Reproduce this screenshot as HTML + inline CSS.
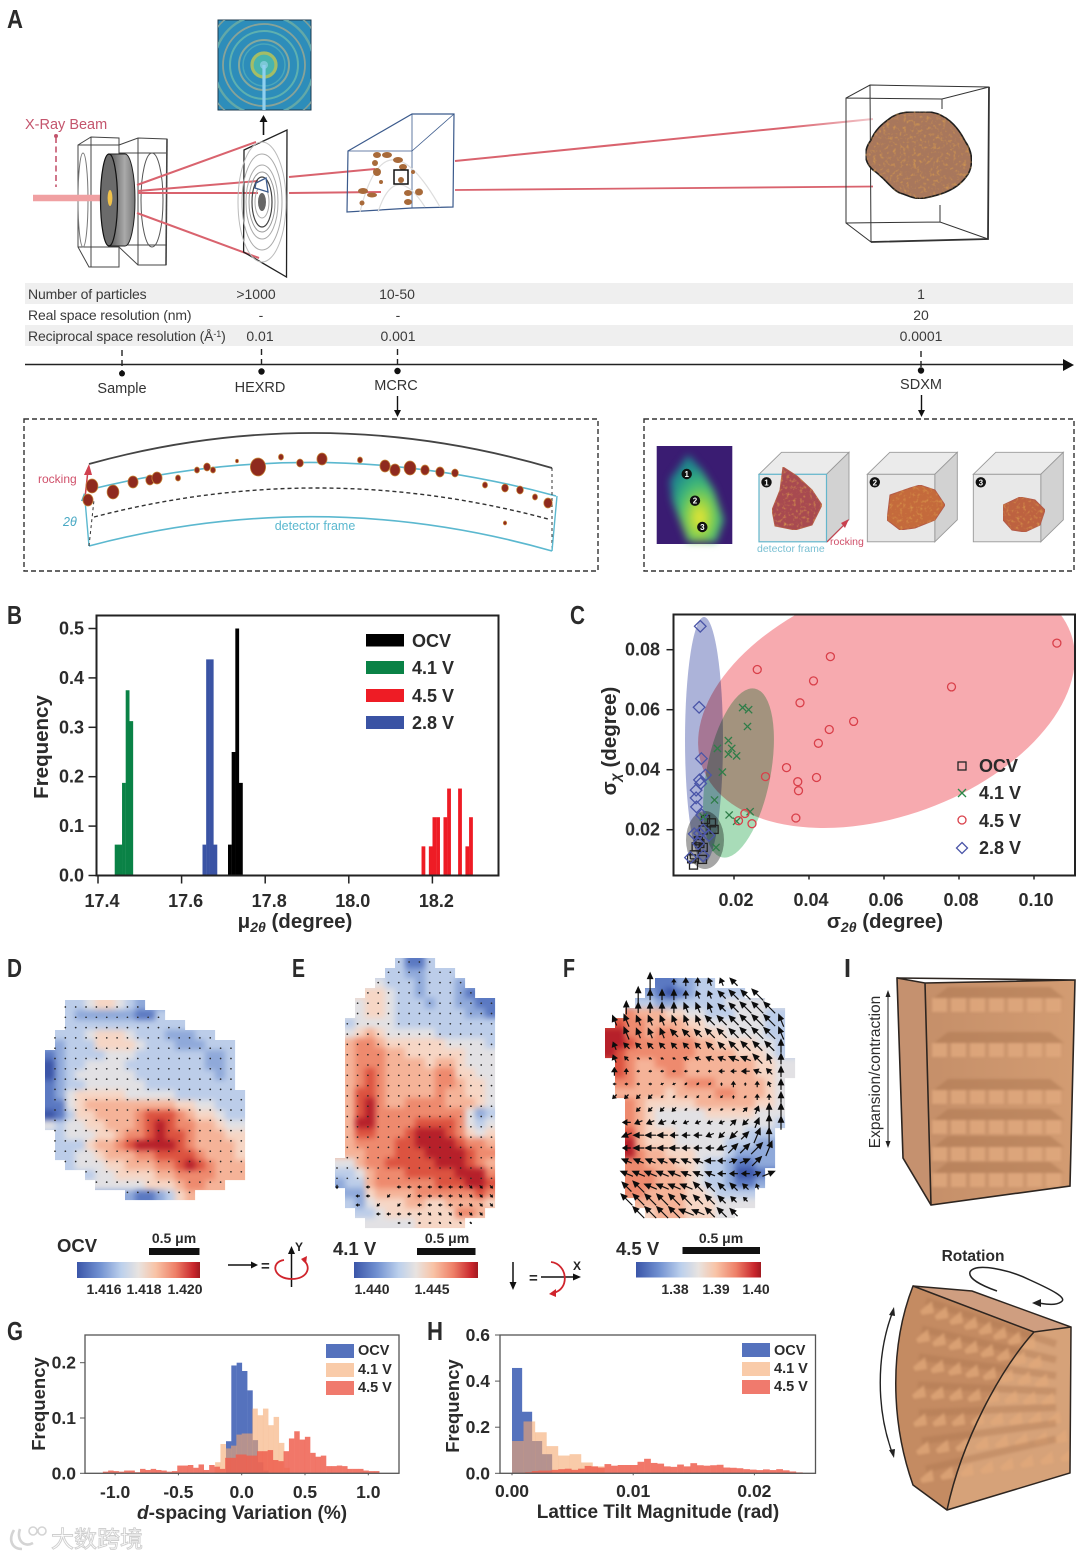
<!DOCTYPE html>
<html lang="en">
<head>
<meta charset="utf-8">
<title>Multiscale X-ray characterisation figure</title>
<style>
html,body{margin:0;padding:0;background:#fff;}
#figure{display:block;width:1080px;height:1559px;font-family:"Liberation Sans",sans-serif;}
.b{font-weight:bold;fill:#2b2b2b;}
.ab{font-family:"Liberation Sans",sans-serif;font-size:14px;fill:#3a3a3a;letter-spacing:-.15px;}
.mult{mix-blend-mode:multiply;}
</style>
</head>
<body>
<svg id="figure" xmlns="http://www.w3.org/2000/svg" width="1080" height="1559" viewBox="0 0 1080 1559">
<defs>
<linearGradient id="cbar" x1="0" x2="1" y1="0" y2="0">
<stop offset="0" stop-color="#3a55a8"/><stop offset=".18" stop-color="#6f8fd0"/><stop offset=".36" stop-color="#bcd0ec"/><stop offset=".5" stop-color="#e8e3e0"/><stop offset=".64" stop-color="#f8c3a6"/><stop offset=".8" stop-color="#ee8068"/><stop offset=".95" stop-color="#c8252c"/><stop offset="1" stop-color="#a01a20"/>
</linearGradient>
<linearGradient id="disk" x1="0" x2="1" y1="0" y2="0"><stop offset="0" stop-color="#555"/><stop offset=".6" stop-color="#aaa"/><stop offset="1" stop-color="#777"/></linearGradient>
<linearGradient id="fadeLine" x1="0" x2="1" y1="0" y2="0"><stop offset="0" stop-color="#d9636e"/><stop offset=".8" stop-color="#d9636e"/><stop offset="1" stop-color="#f3c7cb"/></linearGradient>
<linearGradient id="boxFace" x1="0" x2="1" y1="0" y2="0"><stop offset="0" stop-color="#c58f69"/><stop offset="1" stop-color="#d39c72"/></linearGradient>
<radialGradient id="viridis" cx=".55" cy=".72" r=".6"><stop offset="0" stop-color="#f2e832"/><stop offset=".3" stop-color="#9ed645"/><stop offset=".65" stop-color="#3fb878"/><stop offset="1" stop-color="#1f8a8c"/></radialGradient>
<filter id="soft" x="-10%" y="-10%" width="120%" height="120%" color-interpolation-filters="sRGB"><feGaussianBlur stdDeviation="2.8"/></filter>
<filter id="soft2" x="-20%" y="-20%" width="140%" height="140%" color-interpolation-filters="sRGB"><feGaussianBlur stdDeviation="4"/></filter>
<filter id="blur1" x="-5%" y="-5%" width="110%" height="110%" color-interpolation-filters="sRGB"><feGaussianBlur stdDeviation="1.2"/></filter>
<filter id="speckle" x="0" y="0" width="100%" height="100%" color-interpolation-filters="sRGB">
<feTurbulence type="fractalNoise" baseFrequency=".3" numOctaves="2" seed="4" result="n"/>
<feColorMatrix in="n" type="matrix" values="0 0 0 0 .86  0 0 0 0 .62  0 0 0 0 .3  2.2 0 0 0 -1.15" result="c"/>
<feComposite in="c" in2="SourceAlpha" operator="in" result="s"/>
<feMerge><feMergeNode in="SourceGraphic"/><feMergeNode in="s"/></feMerge>
</filter>
<clipPath id="diffClip"><rect x="218" y="20" width="93" height="90"/></clipPath>
<clipPath id="cClip"><rect x="673" y="614" width="402" height="262"/></clipPath>
<clipPath id="bentClip"><path d="M913 1286 L972 1291 L1071 1327 L1070 1473 L947 1510 L913 1485 C890 1420 890 1345 913 1286 Z"/></clipPath>
</defs>

<!-- Panel A : beamline drawing -->
<g>
<text class="b" x="7" y="28" font-size="26" textLength="16" lengthAdjust="spacingAndGlyphs">A</text>
<g>
<rect x="218" y="20" width="93" height="90" fill="#2d8dba" stroke="#1d3a4d" stroke-width="1"/>
<g clip-path="url(#diffClip)" fill="none">
<circle cx="264" cy="65" r="60" stroke="#7f9f98" stroke-width="1.6"/><circle cx="264" cy="65" r="50" stroke="#62a8a8" stroke-width="2.4"/><circle cx="264" cy="65" r="41" stroke="#88a398" stroke-width="1.8"/><circle cx="264" cy="65" r="34" stroke="#5eb0b0" stroke-width="2"/><circle cx="264" cy="65" r="25" stroke="#86a89c" stroke-width="2"/><circle cx="264" cy="65" r="21" stroke="#4aa6ba" stroke-width="1.5"/>
<circle cx="264" cy="65" r="12" stroke="#a4bd66" stroke-width="3.2" fill="#49b4ae"/><circle cx="264" cy="65" r="4" fill="#7cc8d6"/>
<line x1="264" y1="65" x2="264" y2="110" stroke="#8fd0ef" stroke-width="3.2"/>
</g>
</g>
<g><line x1="263.5" y1="135" x2="263.5" y2="120" stroke="#111" stroke-width="1.6"/><polygon points="263.5,115 259.5,122 267.5,122" fill="#111"/></g>
<text x="25" y="129" font-size="14.5" fill="#c4556d">X-Ray Beam</text>
<line x1="56" y1="137" x2="56" y2="187" stroke="#c4556d" stroke-width="1.6" stroke-dasharray="6 3.5"/>
<circle cx="56" cy="136" r="2" fill="#c4556d"/>
<g fill="none" stroke="#444" stroke-width="1">
<path d="M78 145 L91 137 L119 138 L119 267 L89 267 L78 247 Z M78 145 L119 145 M78 247 L119 247 M91 137 L91 267"/>
<ellipse cx="83" cy="200" rx="5" ry="47" stroke="#777"/>
<path d="M119 145 L138 138 L167 139 L166 265 L138 265 L119 247 M138 138 L138 265 M119 153 L166 153 M119 245 L166 245" stroke-width="1"/>
<path d="M167 139 L166 265" stroke-width="1.6"/>
<ellipse cx="152" cy="200" rx="11" ry="47" stroke="#555"/>
</g>
<path d="M33 198 H106" stroke="#f0a0a2" stroke-width="6.5"/>
<g>
<path d="M109 154 H125 A10 46 0 0 1 125 246 H109 Z" fill="url(#disk)" stroke="#222" stroke-width="1"/>
<ellipse cx="109" cy="200" rx="8.5" ry="46" fill="#6b6b6b" stroke="#111" stroke-width="1.2"/>
<ellipse cx="110" cy="198" rx="2.4" ry="8" fill="#f1c24a"/>
</g>
<g stroke="#d9636e" stroke-width="2" fill="none">
<path d="M137 185 L256 142"/><path d="M137 213 L259 258"/><path d="M138 191 L258 181"/><path d="M138 193 L258 193"/>
<path d="M289 177 L375 169"/><path d="M289 193 L381 192"/>
<path d="M455 161 L873 119" stroke="url(#fadeLine)" stroke-width="2"/><path d="M455 190 L873 186.5" stroke="#d9636e" stroke-width="1.8"/>
</g>
<g fill="none">
<path d="M244 150 L287 130 L286.5 277 L243.6 252 Z" stroke="#222" stroke-width="1.3"/>
<ellipse cx="262" cy="202" rx="4" ry="9" fill="#666" stroke="none"/>
<ellipse cx="262" cy="202" rx="7" ry="16" stroke="#aaa"/><ellipse cx="262" cy="202" rx="10" ry="25" stroke="#444" stroke-width="1.2"/><ellipse cx="262" cy="202" rx="13" ry="30" stroke="#999"/><ellipse cx="262" cy="202" rx="16" ry="37" stroke="#aaa"/><ellipse cx="262" cy="202" rx="20" ry="48" stroke="#aaa"/><ellipse cx="262" cy="202" rx="24" ry="60" stroke="#bbb"/>
<path d="M256 183 L266 178 L268 192 L255 188 Z" stroke="#3b5a8c" stroke-width="1.3" fill="#fff"/>
</g>
<g fill="none" stroke="#3b5a8c" stroke-width="1.2">
<path d="M348 151 L412 114 L454 114 L453 207 L412 208 L347 212 Z"/><path d="M348 151 L412 151 M412 114 L412 208" stroke-width=".8"/><path d="M412 151 L454 114" stroke-width=".8"/>
<path d="M360 212 Q385 110 440 207 M378 212 Q395 160 425 207" stroke="#ddd" stroke-width="1.2"/>
</g>
<g fill="#a86a3a">
<ellipse cx="377" cy="155" rx="4" ry="3"/><ellipse cx="387" cy="155" rx="5" ry="3"/><ellipse cx="398" cy="160" rx="5" ry="3"/><ellipse cx="403" cy="167" rx="4" ry="3"/><ellipse cx="377" cy="172" rx="4" ry="4"/><ellipse cx="375" cy="163" rx="3" ry="3"/><circle cx="381" cy="182" r="2"/><ellipse cx="401" cy="180" rx="3" ry="3"/><ellipse cx="413" cy="172" rx="2" ry="2"/><ellipse cx="363" cy="191" rx="5" ry="3"/><ellipse cx="372" cy="195" rx="5" ry="2.5"/><circle cx="362" cy="203" r="2.5"/><ellipse cx="408" cy="193" rx="4" ry="3"/><ellipse cx="419" cy="192" rx="4" ry="3.5"/><ellipse cx="408" cy="202" rx="4" ry="3"/>
</g>
<rect x="394" y="170" width="14" height="14" fill="none" stroke="#111" stroke-width="1.5"/>
<g fill="none" stroke="#333" stroke-width="1">
<path d="M846 98 L846 223 L871 242 L988 239 L989 87 L870 85 Z M846 98 L942 99 L989 87 M870 85 L871 242 M846 223 L940 222 L988 239 M942 99 L942 109 M940 205 L940 222"/>
<path d="M989 87 L988 239 L871 242" stroke-width="1.8"/>
</g>
<path d="M889 119 C900 110 915 112 930 112 C945 114 957 125 965 141 C975 155 972 170 966 177 C955 192 935 196 925 198 C915 200 910 196 900 193 C892 190 885 178 873 170 C862 160 865 148 871 140 C875 130 882 124 889 119 Z" fill="#a8775c" stroke="#1e1e1e" stroke-width="1.6" filter="url(#speckle)"/>
</g>

<!-- Table and timeline -->
<g>
<rect x="25" y="283" width="1048" height="21" fill="#efefef"/>
<rect x="25" y="325" width="1048" height="21" fill="#efefef"/>
<text class="ab" x="28" y="299">Number of particles</text>
<text class="ab" x="28" y="320">Real space resolution (nm)</text>
<text class="ab" x="28" y="341">Reciprocal space resolution (Å<tspan dy="-4" font-size="9">-1</tspan><tspan dy="4">)</tspan></text>
<g text-anchor="middle" font-size="14" fill="#3a3a3a">
<text x="256" y="299">&gt;1000</text><text x="397" y="299">10-50</text><text x="921" y="299">1</text>
<text x="261" y="320">-</text><text x="398" y="320">-</text><text x="921" y="320">20</text>
<text x="260" y="341">0.01</text><text x="398" y="341">0.001</text><text x="921" y="341">0.0001</text>
</g>
</g>
<g>
<line x1="25" y1="364.5" x2="1065" y2="364.5" stroke="#222" stroke-width="1.4"/>
<polygon points="1074,365 1063,359 1063,371" fill="#111"/>
<g stroke="#222" stroke-width="1.4" stroke-dasharray="6 4"><line x1="122" y1="350" x2="122" y2="371"/><line x1="261.5" y1="349" x2="261.5" y2="371"/><line x1="397.5" y1="349" x2="397.5" y2="371"/><line x1="921" y1="351" x2="921" y2="371"/></g>
<g fill="#111"><circle cx="122" cy="373.5" r="3"/><circle cx="261.5" cy="371.5" r="3.2"/><circle cx="397.5" cy="371" r="3.2"/><circle cx="921" cy="370.5" r="3.2"/></g>
<g text-anchor="middle" font-size="14.5" fill="#333">
<text x="122" y="393">Sample</text><text x="260" y="392">HEXRD</text><text x="396" y="390">MCRC</text><text x="921" y="389">SDXM</text>
</g>
<g><line x1="397.5" y1="396" x2="397.5" y2="412" stroke="#111" stroke-width="1.4"/><polygon points="397.5,417 394,410 401,410" fill="#111"/><line x1="921.5" y1="395" x2="921.5" y2="412" stroke="#111" stroke-width="1.4"/><polygon points="921.5,417 918,410 925,410" fill="#111"/></g>
</g>

<!-- Inset boxes -->
<rect x="24" y="419" width="574" height="152" fill="none" stroke="#333" stroke-width="1.4" stroke-dasharray="5 3"/>
<rect x="644" y="419" width="430" height="152" fill="none" stroke="#333" stroke-width="1.4" stroke-dasharray="5 3"/>
<g fill="none">
<path d="M89 464 Q320 400 552 468" stroke="#444" stroke-width="1.8"/>
<path d="M88 490 Q320 432 556 496" stroke="#5bb8cf" stroke-width="1.6"/>
<path d="M94 517 Q320 458 548 519" stroke="#333" stroke-width="1.4" stroke-dasharray="4 3"/>
<path d="M89 546 Q320 485 552 551" stroke="#5bb8cf" stroke-width="1.6"/>
<path d="M89 546 L85 500" stroke="#5bb8cf" stroke-width="1.4"/><path d="M89 546 L94 500 M552 468 L552 551" stroke="#333" stroke-width="1" stroke-dasharray="3 3"/><path d="M552 551 L557 496" stroke="#5bb8cf" stroke-width="1.4"/>
<path d="M85 498 L88 470" stroke="#d0404e" stroke-width="1.5"/><polygon points="89,464 84,475 92,475" fill="#d0404e"/>
<polygon points="84,493 81,501 88,501" fill="#49a9c4"/>
<g id="insetParticles"></g>
</g>
<text x="38" y="483" font-size="12" fill="#d0506a">rocking</text>
<text x="63" y="526" font-size="12.5" font-style="italic" fill="#49a9c4">2θ</text>
<text x="315" y="530" font-size="12.5" text-anchor="middle" fill="#5bb8cf">detector frame</text>

<g>
<g>
<rect x="656.7" y="446" width="75.6" height="98" fill="#3a1c72"/>
<g filter="url(#soft2)"><path d="M688 455 L702 470 L714 490 L724 520 L716 542 L688 542 L672 500 L670 480 Z" fill="url(#viridis)"/></g>
<g fill="#111"><circle cx="686.7" cy="474" r="5.2"/><circle cx="695" cy="500.7" r="5.2"/><circle cx="702.3" cy="527" r="5.2"/></g>
<g fill="#fff" font-size="8" font-weight="bold" text-anchor="middle"><text x="686.7" y="477">1</text><text x="695" y="503.7">2</text><text x="702.3" y="530">3</text></g>
</g>
<g id="cubes"></g>
<path d="M827 542 L846 523" stroke="#c8404e" stroke-width="1.2"/><polygon points="849,519 841,523 845,528" fill="#c8404e"/>
<text x="757" y="552" font-size="10.5" fill="#78bfd2">detector frame</text>
<text x="830" y="545" font-size="10.5" fill="#d0506a">rocking</text>
</g>

<!-- Panel B -->
<g id="panelB">
<text class="b" x="7" y="624" font-size="26" textLength="15" lengthAdjust="spacingAndGlyphs">B</text>
<text class="b" x="295" y="928" font-size="20.5" text-anchor="middle">μ<tspan font-size="14" font-style="italic" dy="4">2θ</tspan><tspan dy="-4"> (degree)</tspan></text>
<text class="b" transform="translate(48,747) rotate(-90)" font-size="20.5" text-anchor="middle">Frequency</text>
<g>
<rect x="366" y="634" width="38" height="12.5" fill="#000"/><rect x="366" y="661" width="38" height="13" fill="#0a8246"/><rect x="366" y="689" width="38" height="13" fill="#ee1c25"/><rect x="366" y="716" width="38" height="13" fill="#3a53a4"/>
<g class="b" font-size="18"><text x="412" y="647">OCV</text><text x="412" y="674">4.1 V</text><text x="412" y="702">4.5 V</text><text x="412" y="729">2.8 V</text></g>
</g>
</g>

<!-- Panel C -->
<g id="panelC">
<text class="b" x="570" y="624" font-size="26" textLength="15" lengthAdjust="spacingAndGlyphs">C</text>
<g clip-path="url(#cClip)" style="isolation:isolate">
<ellipse class="mult" cx="886.5" cy="700" rx="196" ry="116" transform="rotate(-20 886.5 700)" fill="#f7aaaf"/>
<ellipse class="mult" cx="704" cy="740" rx="19" ry="123" fill="#acb3d9"/>
<ellipse class="mult" cx="738.5" cy="773" rx="32" ry="86" transform="rotate(11 738.5 773)" fill="#a8dcb8"/>
<ellipse class="mult" cx="705" cy="840" rx="19" ry="29" fill="#a6a6a6"/>
</g>
<text class="b" x="885" y="928" font-size="20.5" text-anchor="middle">σ<tspan font-size="14" font-style="italic" dy="4">2θ</tspan><tspan dy="-4"> (degree)</tspan></text>
<text class="b" transform="translate(616,741) rotate(-90)" font-size="20.5" text-anchor="middle">σ<tspan font-size="14" font-style="italic" dy="4">χ</tspan><tspan dy="-4"> (degree)</tspan></text>
<g>
<rect x="958" y="762" width="8" height="8" fill="none" stroke="#222" stroke-width="1.3"/>
<path d="M958 789 L966 797 M966 789 L958 797" stroke="#2b8a4a" stroke-width="1.3"/>
<circle cx="962" cy="820" r="4" fill="none" stroke="#d9404a" stroke-width="1.3"/>
<polygon points="962,842.5 967.5,848 962,853.5 956.5,848" fill="none" stroke="#4a55a8" stroke-width="1.3"/>
<g class="b" font-size="18"><text x="979" y="772">OCV</text><text x="979" y="799">4.1 V</text><text x="979" y="827">4.5 V</text><text x="979" y="854">2.8 V</text></g>
</g>
</g>

<!-- Panels D, E, F -->
<text class="b" x="7" y="977" font-size="26" textLength="15" lengthAdjust="spacingAndGlyphs">D</text>
<text class="b" x="292" y="977" font-size="26" textLength="13" lengthAdjust="spacingAndGlyphs">E</text>
<text class="b" x="563" y="977" font-size="26" textLength="12" lengthAdjust="spacingAndGlyphs">F</text>
<g id="mapD"></g>
<g id="mapE"></g>
<g id="mapF"></g>

<g>
<text class="b" x="57" y="1252" font-size="18.5">OCV</text>
<text class="b" x="174" y="1243" font-size="14" text-anchor="middle">0.5 μm</text>
<rect x="149" y="1248" width="50.5" height="7" fill="#111"/>
<rect x="77" y="1262" width="123" height="16" fill="url(#cbar)"/>
<g class="b" font-size="14" text-anchor="middle"><text x="104" y="1294">1.416</text><text x="144" y="1294">1.418</text><text x="185" y="1294">1.420</text></g>
</g>
<g>
<text class="b" x="333" y="1255" font-size="18.5">4.1 V</text>
<text class="b" x="447" y="1243" font-size="14" text-anchor="middle">0.5 μm</text>
<rect x="417" y="1248" width="58.5" height="7" fill="#111"/>
<rect x="354" y="1262" width="124" height="16" fill="url(#cbar)"/>
<g class="b" font-size="14" text-anchor="middle"><text x="372" y="1294">1.440</text><text x="432" y="1294">1.445</text></g>
</g>
<g>
<text class="b" x="616" y="1255" font-size="18.5">4.5 V</text>
<text class="b" x="721" y="1243" font-size="14" text-anchor="middle">0.5 μm</text>
<rect x="682.5" y="1247" width="77.5" height="7" fill="#111"/>
<rect x="636" y="1262" width="125" height="15.5" fill="url(#cbar)"/>
<g class="b" font-size="14" text-anchor="middle"><text x="675" y="1294">1.38</text><text x="716" y="1294">1.39</text><text x="756" y="1294">1.40</text></g>
</g>
<g>
<line x1="228" y1="1265" x2="253" y2="1265" stroke="#111" stroke-width="1.5"/><polygon points="258,1265 251,1261.5 251,1268.5" fill="#111"/>
<text class="b" x="261" y="1271" font-size="15">=</text>
<line x1="291.5" y1="1287" x2="291.5" y2="1252" stroke="#111" stroke-width="1.5"/><polygon points="291.5,1246 288,1254 295,1254" fill="#111"/>
<text x="295" y="1251" font-size="12" font-weight="bold" fill="#222">Y</text>
<path d="M284 1260 C270 1262 273 1279 292 1279 C308 1279 312 1266 303 1260" fill="none" stroke="#d0242c" stroke-width="1.8"/><polygon points="307,1256 301,1259 306,1264" fill="#d0242c"/>
</g>
<g>
<line x1="513" y1="1262" x2="513" y2="1284" stroke="#111" stroke-width="1.5"/><polygon points="513,1290 509.5,1282 516.5,1282" fill="#111"/>
<text class="b" x="529" y="1283" font-size="15">=</text>
<line x1="541" y1="1277" x2="575" y2="1277" stroke="#111" stroke-width="1.5"/><polygon points="581,1277 573,1273.5 573,1280.5" fill="#111"/>
<text x="573" y="1270" font-size="12" font-weight="bold" fill="#222">X</text>
<path d="M551 1262 C568 1264 570 1290 553 1293" fill="none" stroke="#d0242c" stroke-width="1.8"/><polygon points="549,1294 556,1289 556,1297" fill="#d0242c"/>
</g>

<!-- Panel I -->
<g id="panelI">
<text class="b" x="844" y="977" font-size="26" textLength="7" lengthAdjust="spacingAndGlyphs">I</text>
<text transform="translate(880,1072) rotate(-90)" font-size="15.5" fill="#2b2b2b" text-anchor="middle">Expansion/contraction</text>
<g><line x1="888" y1="996" x2="888" y2="1142" stroke="#222" stroke-width="1"/><polygon points="888,990 885.5,997 890.5,997" fill="#222"/><polygon points="888,1148 885.5,1141 890.5,1141" fill="#222"/></g>
<polygon points="897,978 925,983 931,1205 903,1158" fill="#c5916f"/>
<polygon points="925,983 1075,980 1070,1186 931,1205" fill="url(#boxFace)"/>
<g id="topBlocks" filter="url(#blur1)"></g>
<path d="M897 978 L1075 980 L1070 1186 L931 1205 L903 1158 Z M925 983 L1075 980 M897 978 L925 983 L931 1205" fill="none" stroke="#2d2520" stroke-width="1.6"/>

<text class="b" x="973" y="1261" font-size="15.5" text-anchor="middle">Rotation</text>
<path d="M997 1291 C980 1285 968 1278 970 1272 C975 1262 1010 1270 1030 1280 C1052 1290 1068 1298 1061 1302 C1055 1306 1045 1304 1038 1303" fill="none" stroke="#222" stroke-width="1.5"/>
<polygon points="1032,1303 1041,1299 1041,1307" fill="#222"/>
<path d="M893 1311 C876 1355 876 1410 893 1455" fill="none" stroke="#222" stroke-width="1.4"/>
<polygon points="894,1307 889,1315 895,1316" fill="#222"/><polygon points="894,1458 889,1450 895,1449" fill="#222"/>
<path d="M913 1286 L972 1291 L1071 1327 L1034 1332 Z" fill="#cf9e80"/>
<path d="M913 1286 L1034 1332 C1000 1370 962 1440 947 1510 L913 1485 C890 1420 890 1345 913 1286 Z" fill="#c48b62"/>
<path d="M1034 1332 L1071 1327 L1070 1473 L947 1510 C962 1440 1000 1370 1034 1332 Z" fill="#d6a279"/>
<g id="bentBlocks" filter="url(#blur1)" clip-path="url(#bentClip)"></g>
<path d="M913 1286 L972 1291 L1071 1327 L1070 1473 L947 1510 L913 1485 C890 1420 890 1345 913 1286 Z M913 1286 L1034 1332 L1071 1327 M1034 1332 C1000 1370 962 1440 947 1510" fill="none" stroke="#2d2520" stroke-width="1.5"/>
</g>

<!-- Panel G -->
<g id="panelG">
<text class="b" x="7" y="1340" font-size="26" textLength="16" lengthAdjust="spacingAndGlyphs">G</text>
<text class="b" x="242" y="1519" font-size="19" text-anchor="middle"><tspan font-style="italic">d</tspan>-spacing Variation (%)</text>
<text class="b" transform="translate(45,1404) rotate(-90)" font-size="18.5" text-anchor="middle">Frequency</text>
<g>
<rect x="326" y="1344" width="28" height="14" fill="#5572bd"/><rect x="326" y="1363" width="28" height="14" fill="#f9cba9"/><rect x="326" y="1381" width="28" height="14" fill="#f07a6d"/>
<g class="b" font-size="14.5"><text x="358" y="1355">OCV</text><text x="358" y="1374">4.1 V</text><text x="358" y="1392">4.5 V</text></g>
</g>
</g>

<!-- Panel H -->
<g id="panelH">
<text class="b" x="427" y="1340" font-size="26" textLength="16" lengthAdjust="spacingAndGlyphs">H</text>
<text class="b" x="658" y="1518" font-size="19" text-anchor="middle">Lattice Tilt Magnitude (rad)</text>
<text class="b" transform="translate(459,1406) rotate(-90)" font-size="18.5" text-anchor="middle">Frequency</text>
<g>
<rect x="742" y="1343" width="28" height="14" fill="#5572bd"/><rect x="742" y="1362" width="28" height="14" fill="#f9cba9"/><rect x="742" y="1380" width="28" height="14" fill="#f07a6d"/>
<g class="b" font-size="14.5"><text x="774" y="1355">OCV</text><text x="774" y="1373">4.1 V</text><text x="774" y="1391">4.5 V</text></g>
</g>
</g>

<!-- Watermark -->
<g>
<path d="M14 1530 C8 1540 12 1549 22 1549 M20 1529 C16 1540 24 1548 33 1543" fill="none" stroke="#d4d4d4" stroke-width="2.6"/>
<circle cx="33" cy="1531" r="4" fill="none" stroke="#d4d4d4" stroke-width="1.6"/><circle cx="42" cy="1531" r="4" fill="none" stroke="#d4d4d4" stroke-width="1.6"/>
<text x="51" y="1547" font-size="23" fill="#fff" stroke="#cfcfcf" stroke-width=".9" font-family="'Liberation Sans','Noto Sans CJK SC',sans-serif">大数跨境</text>
</g>

<script>
// ---------- Panel B data ----------
var bXTicks = [17.4, 17.6, 17.8, 18.0, 18.2];
var bXLabels = ["17.4", "17.6", "17.8", "18.0", "18.2"];
var bYTicks = [0, 0.1, 0.2, 0.3, 0.4, 0.5];
var bYLabels = ["0.0", "0.1", "0.2", "0.3", "0.4", "0.5"];
var bBinWidth = 0.00875;
var bGreenStart = 17.44;
var bGreenValues = [0.0625, 0.0625, 0.1875, 0.375, 0.3125];
var bBlueStart = 17.65;
var bBlueValues = [0.0625, 0.4375, 0.4375, 0.0625];
var bBlackStart = 17.711;
var bBlackValues = [0.0625, 0.25, 0.5, 0.1875];
var bRedStart = 18.174;
var bRedValues = [0.059, 0, 0.059, 0.118, 0.118, 0, 0.118, 0.176, 0, 0, 0.176, 0, 0.059, 0.118];

// ---------- Panel C data ----------
var cXTicks = [0.02, 0.04, 0.06, 0.08, 0.10];
var cXLabels = ["0.02", "0.04", "0.06", "0.08", "0.10"];
var cYTicks = [0.02, 0.04, 0.06, 0.08];
var cYLabels = ["0.02", "0.04", "0.06", "0.08"];
var c45X = [.1061,.0457,.0262,.0412,.078,.0376,.0519,.0454,.0425,.034,.042,.0284,.037,.0372,.0229,.0365,.0212,.0248];
var c45Y = [.0822,.0777,.0734,.0696,.0676,.0623,.0561,.0534,.0488,.0407,.0374,.0377,.036,.033,.0254,.0239,.023,.022];
var c41X = [.0223,.0239,.0236,.0185,.0194,.0185,.0207,.0156,.0169,.0148,.0187,.0243,.0207,.0152,.0118];
var c41Y = [.0607,.06,.0544,.0497,.0471,.0452,.0446,.0471,.0392,.0299,.0249,.026,.0228,.0141,.0243];
var c28X = [.011,.0107,.0113,.0124,.0108,.0111,.0099,.0099,.01,.0114,.0094,.0108,.0118,.0133,.0118,.0084,.0105];
var c28Y = [.0878,.0608,.0437,.0382,.0366,.0354,.0332,.0306,.0276,.0249,.0186,.0188,.0199,.0181,.0113,.0107,.0154];
var cOcvX = [.0124,.014,.0147,.0118,.0109,.0099,.0118,.0105,.0094,.0092,.0116,.0087];
var cOcvY = [.0234,.0223,.0201,.0199,.0154,.0143,.0141,.0163,.0116,.0082,.0101,.0103];

// ---------- Panel G data ----------
var gXTicks = [-1, -0.5, 0, 0.5, 1];
var gXLabels = ["-1.0", "-0.5", "0.0", "0.5", "1.0"];
var gYTicks = [0, 0.1, 0.2];
var gYLabels = ["0.0", "0.1", "0.2"];
var gBinWidth = 0.042;
var gOcvStart = -0.124;
var gOcvValues = [.058,.195,.2,.185,.15,.06,.02,.005];
var g41Start = -0.21;
var g41Values = [.02,.053,.045,.05,.07,.072,.072,.117,.105,.117,.087,.102,.055,.01];
var g45Start = -1.097;
var g45Values = [.003,.005,.004,.003,.005,.005,.002,.008,.006,.008,.006,.005,.003,.004,.014,.014,.015,.01,.016,.006,.015,.012,.008,.028,.028,.034,.034,.032,.032,.04,.04,.042,.024,.022,.04,.063,.076,.061,.066,.037,.03,.032,.013,.013,.014,.013,.008,.008,.008,.005,.004,.004];

// ---------- Panel H data ----------
var hXTicks = [0, 0.01, 0.02];
var hXLabels = ["0.00", "0.01", "0.02"];
var hYTicks = [0, 0.2, 0.4, 0.6];
var hYLabels = ["0.0", "0.2", "0.4", "0.6"];
var hOcvBin = 0.000825;
var hOcvValues = [.457,.267,.14,.083];
var h41Bin = 0.00095;
var h41Values = [.14,.225,.178,.118,.077,.083,.047,.03];
var h45Bin = 0.000545;
var h45Values = [0,.002,.005,.01,.012,.012,.015,.018,.02,.015,.02,.032,.03,.025,.04,.033,.036,.036,.036,.05,.063,.045,.042,.03,.028,.038,.03,.044,.035,.033,.035,.037,.025,.024,.022,.018,.016,.014,.017,.014,.018,.013,.008,.004];

// ---------- Heat-map cell levels (0 = deep blue ... 9 = deep red) ----------
var mapColors = ["#3b55a8","#5b79c2","#8fa9da","#bccde9","#e2e1e4","#f6d6c5","#f5b398","#ee8a6e","#dc5340","#b6202a"];
var mapDRows = [
"..33455432..........",
"..3222222113........",
"..333333333333......",
".3334555433322233...",
".233355554333222333.",
"1233334443333333223.",
"0233444433333333223.",
"0234444443333333323.",
"1233444444333333333.",
"12455555444443333333",
"11456666666665544333",
"01355666678887655433",
"43445566678987766544",
".3444556778988766655",
".3335667899998766665",
".3344566677888876665",
"..344455666778987666",
"....3445555667777666",
".....4444455567766..",
"........2112356....."];
var mapERows = [
"......3113......",
".....3322333....",
"....433323332...",
"...55433233321..",
"..45543332332211",
"..45543333333221",
".344443333333333",
".456544444333333",
".677655555544443",
".677766555555444",
".677766665665444",
".678766666775544",
".678766666776554",
".688766666766554",
".689766777766654",
".689777777777423",
".699777788887434",
".688777899987545",
".677778899998776",
".667778889999877",
"4467788888999876",
"3346777888889997",
"2336777777888998",
".225666677777787",
".324555665566665",
"..3345555555776.",
"...4444455555..."];
var mapFRows = [
".....112233........",
"....2101233333.....",
"...3322333334444...",
"..7666554433344433.",
".87766665544444433.",
"997767766555444433.",
"998777777665555443.",
"987777777666655543.",
".876677766666665544",
".876667766666665544",
".77666667776666654.",
".66666566667766654.",
"..7655555666666554.",
"..7654444455555444.",
"..7654444444444443.",
"..865554444444333..",
"..965554444433322..",
"..976655544432222..",
"..776665543321122..",
"..77766654332001...",
"..77766654332112...",
"..7766665543333....",
"...666665554444....",
"....566655544......"];

// ---------- Arrow fields: direction in 22.5 degree hex steps (0=E, 4=N, 8=W, c=S) and length level ----------
var fieldFDirs = [
"...4.444556....",
"..44444556666..",
".4444455566666.",
"555555556666665",
"555556666666665",
"566666666666664",
"567777777777654",
"448888888888764",
"888899aaa444454",
"aaaaaaaaaa42444",
"..aaaaaaa992344",
".8999999992a344",
".98888889aa234.",
".88888888922233",
".77777778811223",
".7777777788811.",
".667777666665..",
".66666666666...",
"..666677666...."];
var fieldFLens = [
"...7.233334....",
"..644433345566.",
".54444444456666",
"454444445556665",
".54444445556665",
"333333334455555",
"321111223344544",
"321111111223334",
"111111111121224",
"222211111111224",
"..2222111112355",
".33332222233465",
".44443333344666",
".3444433345566.",
".444444443345..",
".5555544433335.",
".565555554432..",
".66666655432...",
"..6666655543..."];
var fieldETailDirs = [
"c..8..8888888eee",
"..88.a.a8888eeee",
"..8.a.a.88888eee",
"....88888eeeeee.",
"......8888eeee.."];
var fieldETailLens = [3, 3, 3, 3, 2];

// ---------- Illustration lists ----------
var insetParticles = [[92,486,7],[88,500,6],[113,492,7],[133,482,6],[150,480,5],[157,478,6],[178,478,3],[197,470,3],[207,467,4],[213,470,3],[237,461,1.8],[258,467,9],[281,457,3],[300,463,4],[322,459,6],[360,460,3],[385,466,6],[395,470,6],[410,468,7],[425,470,5],[440,472,5],[455,473,4],[485,485,3],[505,488,4],[520,490,4],[535,497,3],[548,503,5],[505,523,2]];
var cubeFronts = [759, 867.3, 973.3];
var cubeFills = ["#a84a50", "#c46a3c", "#bd6240"];
var cubeBlobs = [
"M783 467 L797 476 L812 490 L822 505 L812 525 L795 530 L775 526 L772 510 L780 490 Z",
"M890 495 L910 488 L920 485 L935 490 L945 505 L935 520 L915 528 L900 530 L887 520 Z",
"M1003 505 L1020 497 L1035 500 L1045 510 L1040 525 L1025 532 L1012 530 L1003 520 Z"];

// ---------- Helpers ----------
var NS = "http://www.w3.org/2000/svg";
function mk(parent, tag, attrs, text) {
  var el = document.createElementNS(NS, tag);
  for (var k in attrs) el.setAttribute(k, attrs[k]);
  if (text !== undefined) el.textContent = text;
  parent.appendChild(el);
  return el;
}
function byId(i) { return document.getElementById(i); }

function drawAxes(parent, o) {
  var frame = mk(parent, "rect", {x:o.l, y:o.t, width:o.r-o.l, height:o.b-o.t, fill:"none", stroke:o.stroke, "stroke-width":o.sw});
  
  
  o.xTicks.forEach(function(v, i) {
    var t = mk(parent, "line", {x1:o.x(v), x2:o.x(v), y1:o.b, y2:o.b+o.xTickLen, stroke:o.stroke, "stroke-width":o.sw*.75});
    
    
    var lb = mk(parent, "text", {x:o.x(v)+o.xLabelDx, y:o.xLabelY, "font-size":o.fs, "text-anchor":"middle", "class":"b"}, o.xLabels[i]);
    
    
  });
  o.yTicks.forEach(function(v, i) {
    var t = mk(parent, "line", {x1:o.l-o.yTickLen, x2:o.l, y1:o.y(v), y2:o.y(v), stroke:o.stroke, "stroke-width":o.sw*.75});
    
    
    var lb = mk(parent, "text", {x:o.yLabelX, y:o.y(v)+o.yLabelDy, "font-size":o.fs, "text-anchor":"end", "class":"b"}, o.yLabels[i]);
    
    
  });
}
function drawBars(parent, values, start, bin, xFn, yFn, fill, opacity, name) {
  values.forEach(function(v, i) {
    if (!v) return;
    var x0 = xFn(start + i*bin), x1 = xFn(start + (i+1)*bin), y1 = yFn(v), y0 = yFn(0);
    var bar = mk(parent, "rect", {x:x0, y:y1, width:x1-x0+0.15, height:y0-y1, fill:fill, "fill-opacity":opacity});
    
    
  });
}

// ---------- Panel B ----------
(function() {
  var g = byId("panelB");
  var x = function(v) { return 98 + (v-17.4)*418; };
  var y = function(v) { return 875.5 - v*494; };
  drawBars(g, bGreenValues, bGreenStart, bBinWidth, x, y, "#0a8246", 1, "bar-4-1v");
  drawBars(g, bBlueValues, bBlueStart, bBinWidth, x, y, "#3a53a4", 1, "bar-2-8v");
  drawBars(g, bBlackValues, bBlackStart, bBinWidth, x, y, "#000", 1, "bar-ocv");
  drawBars(g, bRedValues, bRedStart, bBinWidth, x, y, "#ee1c25", 1, "bar-4-5v");
  drawAxes(g, {l:96.5, r:498.5, t:615.5, b:875.5, x:x, y:y, stroke:"#222", sw:2, xTicks:bXTicks, xLabels:bXLabels, yTicks:bYTicks, yLabels:bYLabels, xTickLen:8, yTickLen:8, xLabelDx:4, xLabelY:907, yLabelX:84, yLabelDy:6, fs:18});
})();

// ---------- Panel C ----------
(function() {
  var g = byId("panelC");
  var x = function(v) { return 734 + (v-0.02)*3750; };
  var y = function(v) { return 829.7 - (v-0.02)*3000; };
  cOcvX.forEach(function(v, i) {
    var m = mk(g, "rect", {x:x(v)-4, y:y(cOcvY[i])-4, width:8, height:8, fill:"none", stroke:"#222", "stroke-width":1.3});
    
    
  });
  c28X.forEach(function(v, i) {
    var px = x(v), py = y(c28Y[i]);
    var m = mk(g, "polygon", {points:[px,py-5.8,px+5.8,py,px,py+5.8,px-5.8,py].join(" "), fill:"none", stroke:"#4a55a8", "stroke-width":1.3});
    
    
  });
  c41X.forEach(function(v, i) {
    var px = x(v), py = y(c41Y[i]);
    var m = mk(g, "path", {d:"M"+(px-3.6)+" "+(py-3.6)+"L"+(px+3.6)+" "+(py+3.6)+"M"+(px+3.6)+" "+(py-3.6)+"L"+(px-3.6)+" "+(py+3.6), fill:"none", stroke:"#2f7d48", "stroke-width":1.3});
    
    
  });
  c45X.forEach(function(v, i) {
    var m = mk(g, "circle", {cx:x(v), cy:y(c45Y[i]), r:4, fill:"none", stroke:"#d9404a", "stroke-width":1.3});
    
    
  });
  drawAxes(g, {l:673.5, r:1075, t:614.5, b:875.5, x:x, y:y, stroke:"#222", sw:2, xTicks:cXTicks, xLabels:cXLabels, yTicks:cYTicks, yLabels:cYLabels, xTickLen:4, yTickLen:7, xLabelDx:2, xLabelY:906, yLabelX:660, yLabelDy:6, fs:18});
})();

// ---------- Panel G ----------
(function() {
  var g = byId("panelG");
  var x = function(v) { return 241.7 + v*126.6; };
  var y = function(v) { return 1473.3 - v*553; };
  drawBars(g, gOcvValues, gOcvStart, gBinWidth, x, y, "#5572bd", 1, "bar-g-ocv");
  drawBars(g, g41Values, g41Start, gBinWidth, x, y, "#f5a870", 0.6, "bar-g-4-1v");
  drawBars(g, g45Values, g45Start, gBinWidth, x, y, "#ee5f4f", 0.85, "bar-g-4-5v");
  drawAxes(g, {l:85, r:399, t:1335, b:1473.3, x:x, y:y, stroke:"#555", sw:1.3, xTicks:gXTicks, xLabels:gXLabels, yTicks:gYTicks, yLabels:gYLabels, xTickLen:2, yTickLen:5, xLabelDx:0, xLabelY:1498, yLabelX:76, yLabelDy:6, fs:17.5});
})();

// ---------- Panel H ----------
(function() {
  var g = byId("panelH");
  var x = function(v) { return 512 + v*12120; };
  var y = function(v) { return 1473.3 - v*230.5; };
  drawBars(g, hOcvValues, 0, hOcvBin, x, y, "#5572bd", 1, "bar-h-ocv");
  drawBars(g, h41Values, 0, h41Bin, x, y, "#f5a870", 0.6, "bar-h-4-1v");
  drawBars(g, h45Values, 0, h45Bin, x, y, "#ee5f4f", 0.85, "bar-h-4-5v");
  drawAxes(g, {l:500, r:815.5, t:1335, b:1473.3, x:x, y:y, stroke:"#555", sw:1.3, xTicks:hXTicks, xLabels:hXLabels, yTicks:hYTicks, yLabels:hYLabels, xTickLen:2, yTickLen:5, xLabelDx:0, xLabelY:1497, yLabelX:490, yLabelDy:6, fs:17.5});
})();

// ---------- Heat maps ----------
function cellOf(rows, r, c) {
  var row = rows[Math.max(0, Math.min(rows.length-1, r))];
  var ch = row.charAt(c);
  if (ch && ch !== ".") return ch;
  for (var d = 1; d < row.length; d++) {
    var a = row.charAt(c-d), b = row.charAt(c+d);
    if (a && a !== ".") return a;
    if (b && b !== ".") return b;
  }
  return "4";
}
function drawMap(host, rows, x0, y0, cell, id) {
  var cols = 0;
  rows.forEach(function(s) { cols = Math.max(cols, s.length); });
  var clip = mk(byId("figure").querySelector("defs"), "clipPath", {id:id});
  rows.forEach(function(s, r) {
    for (var c = 0; c < s.length; c++) {
      if (s.charAt(c) !== ".") mk(clip, "rect", {x:x0+c*cell, y:y0+r*cell, width:cell+0.1, height:cell+0.1});
    }
  });
  var outer = mk(host, "g", {"clip-path":"url(#"+id+")"});
  var blur = mk(outer, "g", {filter:"url(#soft)"});
  for (var r = -2; r < rows.length+2; r++) {
    for (var c = -2; c < cols+2; c++) {
      var lvl = cellOf(rows, r, Math.max(0, Math.min(cols-1, c)));
      var rc = mk(blur, "rect", {x:x0+c*cell, y:y0+r*cell, width:cell+0.3, height:cell+0.3, fill:mapColors[+lvl]});
      
      
    }
  }
}
function isFilled(rows, x0, y0, cell, px, py) {
  var r = Math.floor((py-y0)/cell), c = Math.floor((px-x0)/cell);
  if (r < 0 || r >= rows.length || c < 0) return false;
  var ch = rows[r].charAt(c);
  return !!ch && ch !== ".";
}
function drawDots(host, rows, x0, y0, cell, sx, sy, stepX, stepY, maxY) {
  for (var py = sy; py < maxY; py += stepY) {
    for (var px = sx; px < x0 + 260; px += stepX) {
      if (!isFilled(rows, x0, y0, cell, px, py)) continue;
      var d = mk(host, "circle", {cx:px, cy:py, r:0.85, fill:"#2a2a2a"});
      
      
    }
  }
}
function drawArrow(host, px, py, hex, len) {
  var a = hex*22.5*Math.PI/180, ux = Math.cos(a), uy = -Math.sin(a), nx = -uy, ny = ux;
  var hb = Math.min(7.5, len*0.62), w = Math.min(3.4, len*0.42), s = 0.6;
  var h = len/2, b = h-hb;
  var pts = [
    [px-ux*h+nx*s, py-uy*h+ny*s], [px+ux*b+nx*s, py+uy*b+ny*s], [px+ux*b+nx*w, py+uy*b+ny*w],
    [px+ux*h, py+uy*h],
    [px+ux*b-nx*w, py+uy*b-ny*w], [px+ux*b-nx*s, py+uy*b-ny*s], [px-ux*h-nx*s, py-uy*h-ny*s]
  ].map(function(p) { return p[0].toFixed(1)+","+p[1].toFixed(1); }).join(" ");
  var el = mk(host, "polygon", {points:pts, fill:"#0d0d0d"});
  
  
}
(function() {
  var dHost = byId("mapD"), eHost = byId("mapE"), fHost = byId("mapF");
  drawMap(dHost, mapDRows, 45, 1000, 10, "clipD");
  drawMap(eHost, mapERows, 335, 958, 10, "clipE");
  drawMap(fHost, mapFRows, 605, 978, 10, "clipF");
  drawDots(dHost, mapDRows, 45, 1000, 10, 55, 1007, 10.35, 10.3, 1197);
  drawDots(eHost, mapERows, 335, 958, 10, 337, 962, 10.3, 10.3, 1183);
  fieldETailDirs.forEach(function(s, r) {
    for (var c = 0; c < s.length; c++) {
      var ch = s.charAt(c);
      if (ch === ".") continue;
      drawArrow(eHost, 337 + c*10.3, 1187 + r*9, parseInt(ch, 16), fieldETailLens[r]*1.5);
    }
  });
  fieldFDirs.forEach(function(s, r) {
    var lens = fieldFLens[r];
    for (var c = 0; c < s.length; c++) {
      var ch = s.charAt(c), lv = lens.charAt(c);
      if (ch === "." || lv === "." || lv === "") continue;
      drawArrow(fHost, 614.4 + c*11.9, 981.6 + r*12.8, parseInt(ch, 16), (+lv)*2.7 + 1);
    }
  });
})();

// ---------- Illustrations ----------
(function() {
  var ip = byId("insetParticles");
  insetParticles.forEach(function(p) {
    var e = mk(ip, "ellipse", {cx:p[0], cy:p[1], rx:p[2]*0.85, ry:p[2], fill:"#8f2a1e", stroke:"#c98a3a", "stroke-width":0.7});
    
    
  });
  var cubes = byId("cubes");
  cubeFronts.forEach(function(fx, i) {
    var w = 67.5, t = 474.3, dx = 22.5, dy = 22;
    var top = mk(cubes, "polygon", {points:[fx,t,fx+dx,t-dy,fx+w+dx,t-dy,fx+w,t].join(" "), fill:"#ebebeb", stroke:"#999", "stroke-width":0.9});
    
    
    var side = mk(cubes, "polygon", {points:[fx+w,t,fx+w+dx,t-dy,fx+w+dx,t+w-dy,fx+w,t+w].join(" "), fill:"#d2d2d2", stroke:"#999", "stroke-width":0.9});
    
    
    var front = mk(cubes, "rect", {x:fx, y:t, width:w, height:w, fill:"#e8e8e8", stroke:i === 0 ? "#63b6cc" : "#999", "stroke-width":i === 0 ? 1.2 : 0.9});
    
    
    var blob = mk(cubes, "path", {d:cubeBlobs[i], fill:cubeFills[i], stroke:"#b35a48", "stroke-width":1, filter:"url(#speckle)"});
    
    
    var badge = mk(cubes, "circle", {cx:fx+7.5, cy:t+8, r:5.2, fill:"#111"});
    
    
    var num = mk(cubes, "text", {x:fx+7.5, y:t+11, "font-size":8, "font-weight":"bold", fill:"#fff", "text-anchor":"middle"}, String(i+1));
    
    
  });
  var tb = byId("topBlocks");
  [998, 1043, 1090, 1120, 1147, 1173].forEach(function(yy) {
    var band = mk(tb, "polygon", {points:[934,yy,948,yy-11,1050,yy-11,1064,yy].join(" "), fill:"#a8734d", "fill-opacity":0.45});
    
    
    for (var i = 0; i < 7; i++) {
      var bl = mk(tb, "rect", {x:932+19*i, y:yy, width:15, height:14, fill:"#e0a97e", "fill-opacity":0.8});
      
      
    }
  });
  var bb = byId("bentBlocks");
  for (var r = 0; r < 7; r++) {
    var f = r/6;
    var ax = 920 - 8*Math.sin(f*3.14), ay = 1305 + f*168, bx = 1022 + f*38 , by = 1340 + f*112;
    var ex = 1062, ey = 1350 + f*95;
    var band2 = mk(bb, "line", {x1:ax+6, y1:ay-4, x2:ex-6, y2:ey-6, stroke:"#a8734d", "stroke-width":7, "stroke-opacity":0.35});
    
    
    for (var c = 0; c < 8; c++) {
      var g2 = c/7, px = ax+(bx-ax)*g2, py = ay+(by-ay)*g2;
      var tri = mk(bb, "polygon", {points:[px,py+6,px+12,py-4,px+14,py+8,px+2,py+10].join(" "), fill:"#e3a97a", "fill-opacity":0.7});
      
      
    }
  }
})();
</script>
</svg>
</body>
</html>
